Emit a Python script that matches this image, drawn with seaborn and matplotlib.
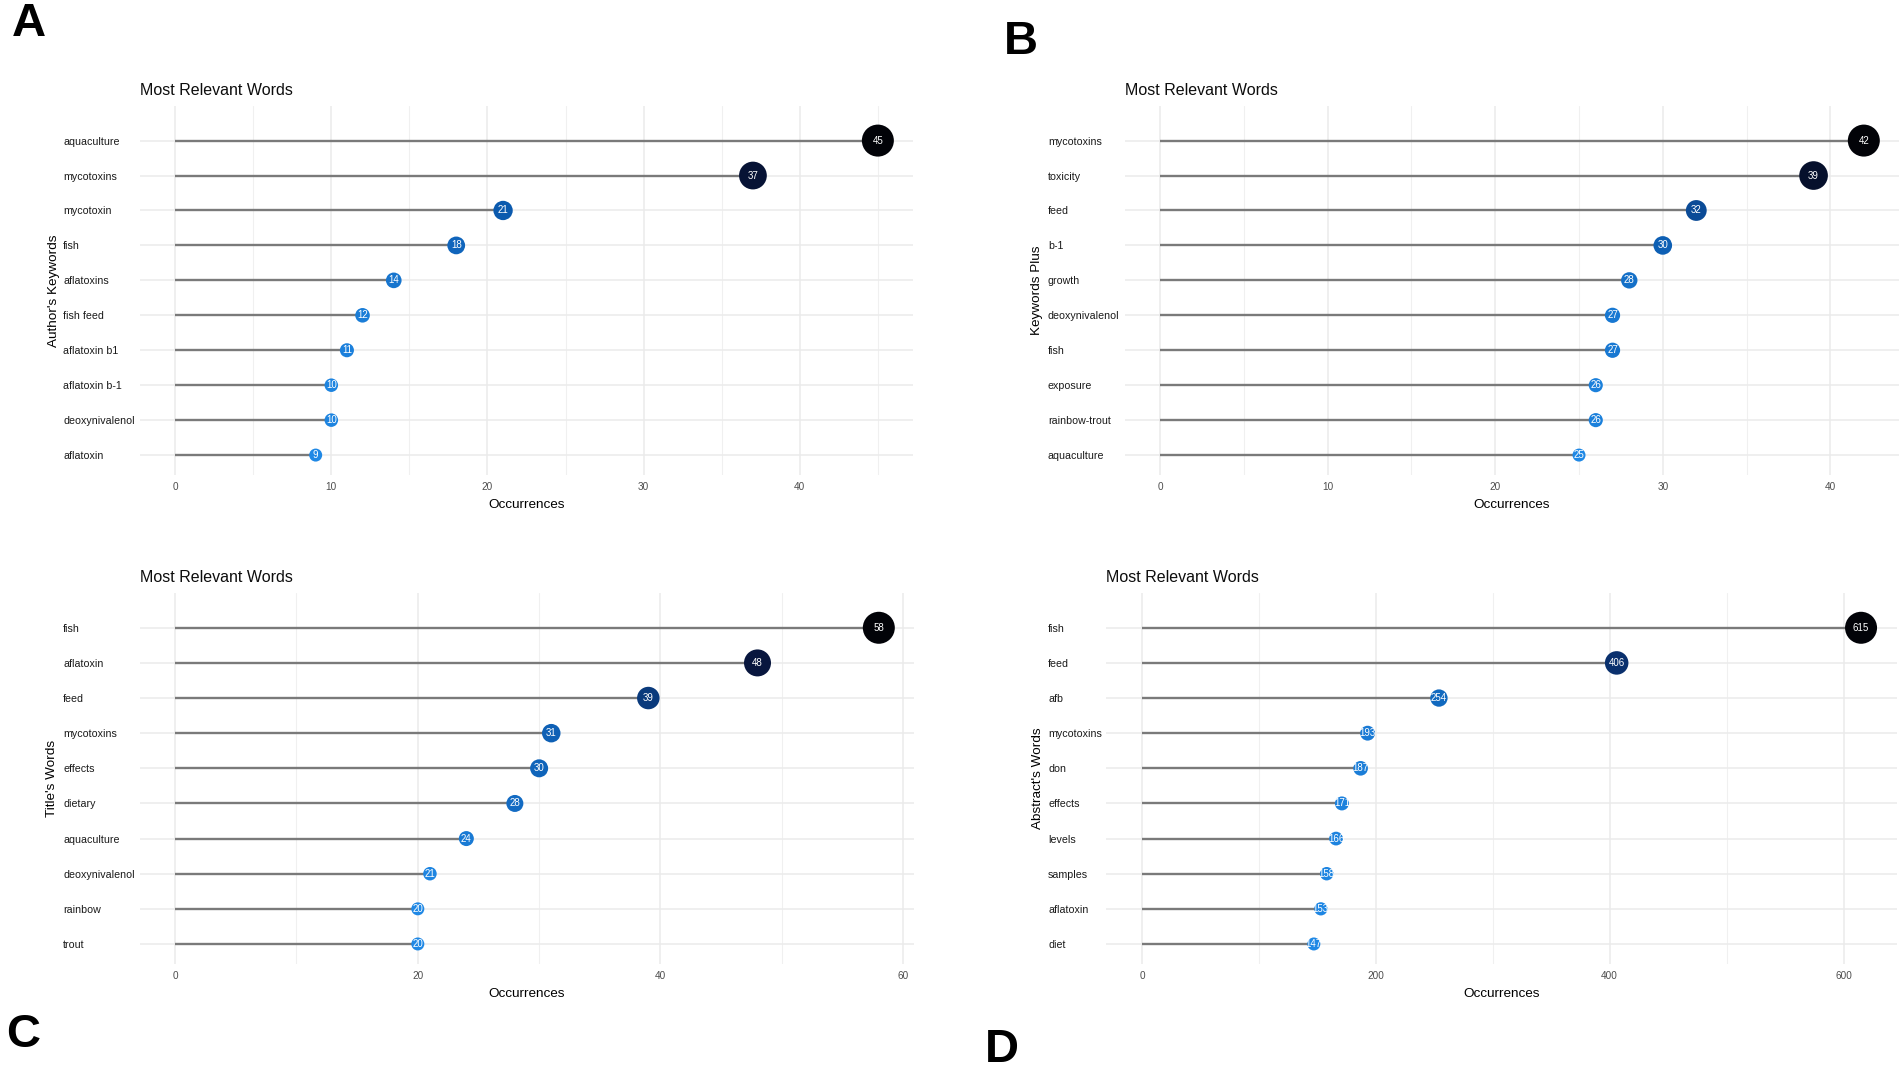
import numpy as np
import pandas as pd
import seaborn as sns
import matplotlib.pyplot as plt
from matplotlib.colors import LinearSegmentedColormap
from matplotlib.ticker import MultipleLocator

# data
words_a = ["aquaculture", "mycotoxins", "mycotoxin", "fish", "aflatoxins",
           "fish feed", "aflatoxin b1", "aflatoxin b-1", "deoxynivalenol", "aflatoxin"]
freq_a = [45, 37, 21, 18, 14, 12, 11, 10, 10, 9]

words_b = ["mycotoxins", "toxicity", "feed", "b-1", "growth",
           "deoxynivalenol", "fish", "exposure", "rainbow-trout", "aquaculture"]
freq_b = [42, 39, 32, 30, 28, 27, 27, 26, 26, 25]

words_c = ["fish", "aflatoxin", "feed", "mycotoxins", "effects",
           "dietary", "aquaculture", "deoxynivalenol", "rainbow", "trout"]
freq_c = [58, 48, 39, 31, 30, 28, 24, 21, 20, 20]

words_d = ["fish", "feed", "afb", "mycotoxins", "don",
           "effects", "levels", "samples", "aflatoxin", "diet"]
freq_d = [615, 406, 254, 193, 187, 171, 166, 158, 153, 147]

ylabels = ["Author's Keywords", "Keywords Plus", "Title's Words", "Abstract's Words"]
letters = ["A", "B", "C", "D"]
major_step = [10, 10, 20, 200]

W, H = 1901, 1075

# layout in pixels: panel box (left, top, right, bottom), label column x, y-title x
boxes = [(140, 106, 913, 475), (1125, 106, 1899, 475),
         (140, 593, 914, 964), (1106, 593, 1897, 964)]
label_x = [63, 1048, 63, 1048]
ytitle_x = [54, 1037, 52, 1038]
letter_pos = [(12, 24), (1004, 42), (6, 1035), (985, 1050)]

sns.set_theme(style="white")
plt.rcParams['font.family'] = ['Liberation Sans', 'DejaVu Sans']

cmap = LinearSegmentedColormap.from_list("occ", ["#1f88e5", "#0b5aae", "#0a1b4c", "#020308"])


def fx(px):
    return px / W


def fy(py):
    return 1 - py / H


def dot_area(v, lo, hi):
    # radius grows linearly with the count (like scale_radius)
    d = 13 + (v - lo) / (hi - lo) * 19
    return (d * 0.72) ** 2


fig = plt.figure(figsize=(W / 100, H / 100), dpi=100)
fig.patch.set_facecolor("white")

panels = [(words_a, freq_a), (words_b, freq_b), (words_c, freq_c), (words_d, freq_d)]

for k, (words, freq) in enumerate(panels):
    l, t, r, b = boxes[k]
    ax = fig.add_axes([fx(l), fy(b), fx(r) - fx(l), (b - t) / H])
    df = pd.DataFrame({"word": words, "freq": freq, "pos": np.arange(len(words))})
    lo, hi = min(freq), max(freq)

    ax.hlines(df["pos"], 0, df["freq"], color="#7a7a7a", lw=1.7, zorder=2)
    sns.scatterplot(data=df, x="freq", y="pos", hue="freq", palette=cmap,
                    hue_norm=(lo, hi), size="freq",
                    sizes={v: dot_area(v, lo, hi) for v in df["freq"].unique()},
                    edgecolor="none", linewidth=0, legend=False, ax=ax, zorder=3)
    for _, row in df.iterrows():
        ax.text(row["freq"], row["pos"], str(row["freq"]), color="white",
                fontsize=7, ha="center", va="center", zorder=4)

    ax.set_xlim(-0.05 * hi, 1.05 * hi)
    ax.set_ylim(len(words) - 1 + 0.57, -0.99)
    ax.xaxis.set_major_locator(MultipleLocator(major_step[k]))
    ax.xaxis.set_minor_locator(MultipleLocator(major_step[k] / 2))
    ax.set_yticks(df["pos"])
    ax.set_yticklabels(words)

    ax.grid(True, which="major", color="#ebebeb", lw=1.1)
    ax.grid(True, which="minor", axis="x", color="#f0f0f0", lw=0.8)
    ax.set_axisbelow(True)
    for s in ax.spines.values():
        s.set_visible(False)

    ax.tick_params(axis="x", which="both", length=0, pad=5, labelsize=7.2, labelcolor="#4d4d4d")
    ax.tick_params(axis="y", length=0, pad=(l - label_x[k]) * 0.72, labelsize=7.7, labelcolor="#1a1a1a")
    for lab in ax.get_yticklabels():
        lab.set_horizontalalignment("left")
    ax.set_xlabel("")
    ax.set_ylabel("")

    fig.text(fx(l), fy(t - 15), "Most Relevant Words", fontsize=11.5,
             ha="left", va="center", color="#0d0d0d")
    fig.text(fx((l + r) / 2), fy(b + 30), "Occurrences", fontsize=9.7,
             ha="center", va="center", color="black")
    fig.text(fx(ytitle_x[k]), fy((t + b) / 2), ylabels[k], fontsize=9.7,
             rotation=90, ha="center", va="center", color="black")
    fig.text(fx(letter_pos[k][0]), fy(letter_pos[k][1]), letters[k], fontsize=34,
             fontweight="bold", ha="left", va="center", color="black")

fig.savefig("out.png", dpi=100, facecolor="white")
